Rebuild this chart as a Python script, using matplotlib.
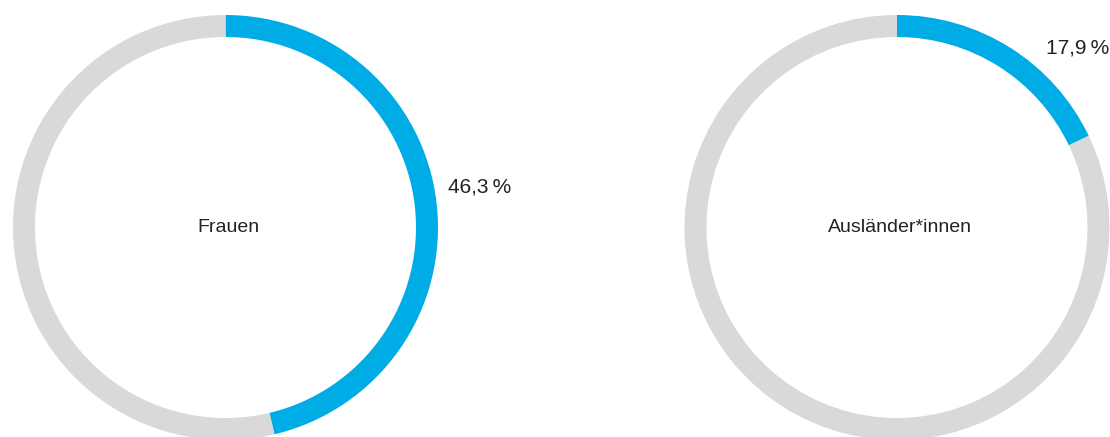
import matplotlib.pyplot as plt

# share values in percent
categories = ["Frauen", "Ausländer*innen"]
shares = [46.3, 17.9]
value_labels = ["46,3\u2009%", "17,9\u2009%"]

blue = "#00ace6"
grey = "#d9d9d9"

plt.rcParams['font.family'] = ['Liberation Sans', 'DejaVu Sans']

fig = plt.figure(figsize=(11.1, 4.37), dpi=100)
ax = fig.add_axes([0, 0, 1, 1])

centers = [(225.5, 227.5), (897, 227.5)]
radius = 212.5
ring = 22
label_pos = [(448, 187, 'left'), (1109, 48, 'right')]

for cat, val, lab, c, lp in zip(categories, shares, value_labels, centers, label_pos):
    ax.pie([val, 100 - val], colors=[blue, grey], startangle=90, counterclock=False,
           center=(c[0], -c[1]), radius=radius,
           wedgeprops=dict(width=ring, linewidth=0))
    ax.text(c[0] + 3, -c[1], cat, ha='center', va='center', fontsize=14, color='#222222')
    ax.text(lp[0], -lp[1], lab, ha=lp[2], va='center', fontsize=15, color='#222222')

ax.set_xlim(0, 1110)
ax.set_ylim(-437, 0)
ax.set_aspect('equal')
ax.axis('off')

fig.savefig("out.png", dpi=100)
